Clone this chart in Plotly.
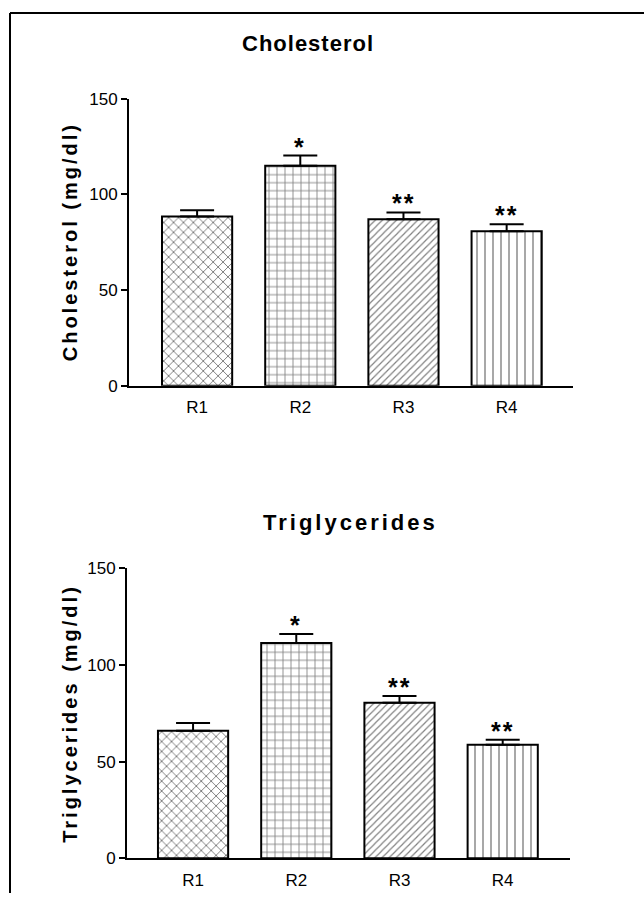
import plotly.graph_objects as go

groups = ["R1", "R2", "R3", "R4"]
chol_mean = [88.5, 115.0, 87.0, 80.7]
chol_sem = [3.2, 5.3, 3.6, 3.7]
chol_sig = ["", "*", "**", "**"]
trig_mean = [66.0, 111.3, 80.4, 58.8]
trig_sem = [4.0, 4.7, 3.6, 2.5]
trig_sig = ["", "*", "**", "**"]
y_ticks = [0, 50, 100, 150]

patterns = ["x", "+", "/", "|"]
psizes = [7, 8, 5, 8]
psolid = [0.26, 0.2, 0.24, 0.17]

FONT = "Arial, Liberation Sans, Helvetica, sans-serif"
W, H = 644, 903

def py(t):
    # screen pixel row -> paper fraction (compensates the page capture offset)
    return 1 - ((t - 8) / 0.982) / H

fig = go.Figure()

def add_panel(means, sems, xa, ya):
    fig.add_trace(go.Bar(
        x=groups, y=means, xaxis=xa, yaxis=ya, width=0.68,
        marker=dict(color="white", line=dict(color="black", width=2),
                    pattern=dict(shape=patterns, size=psizes, solidity=psolid,
                                 fgcolor="black", bgcolor="white", fillmode="overlay")),
        error_y=dict(type="data", array=sems, arrayminus=[0]*len(sems), symmetric=False,
                     color="black", thickness=2, width=17),
        showlegend=False, hoverinfo="skip"))

add_panel(chol_mean, chol_sem, "x", "y")
add_panel(trig_mean, trig_sem, "x2", "y2")

axis_common = dict(showline=True, linecolor="black", linewidth=2, showgrid=False,
                   zeroline=False, tickfont=dict(family=FONT, size=17, color="black"))
xtick = dict(ticks="outside", ticklen=5, tickcolor="rgba(0,0,0,0)")
ytick = dict(ticks="outside", ticklen=6, tickwidth=2, tickcolor="black")

fig.update_layout(
    width=W, height=H, margin=dict(l=0, r=0, t=0, b=0),
    paper_bgcolor="white", plot_bgcolor="white",
    xaxis=dict(domain=[129/W, 573/W], anchor="y", range=[-0.66, 3.643], **xtick, **axis_common),
    yaxis=dict(domain=[py(386), py(98)], anchor="x", range=[0, 150], tickvals=y_ticks,
               **ytick, **axis_common),
    xaxis2=dict(domain=[127/W, 570/W], anchor="y2", range=[-0.64, 3.652], **xtick, **axis_common),
    yaxis2=dict(domain=[py(860), py(569)], anchor="x2", range=[0, 150], tickvals=y_ticks,
                **ytick, **axis_common),
)

# significance marks
for means, sems, sig, xr, yr in [(chol_mean, chol_sem, chol_sig, "x", "y"),
                                  (trig_mean, trig_sem, trig_sig, "x2", "y2")]:
    for g, m, s, t in zip(groups, means, sems, sig):
        if t:
            fig.add_annotation(x=g, y=m + s, xref=xr, yref=yr,
                               text="<b><span style='letter-spacing:2px'>%s</span></b>" % t,
                               showarrow=False, xanchor="center", yanchor="bottom", yshift=-7,
                               font=dict(family=FONT, size=25, color="black"))

def spaced(txt, ls):
    return "<b><span style='letter-spacing:%spx'>%s</span></b>" % (ls, txt)

# panel titles
fig.add_annotation(x=308/W, y=py(43), xref="paper", yref="paper", text=spaced("Cholesterol", 1),
                   showarrow=False, xanchor="center", yanchor="middle",
                   font=dict(family=FONT, size=22, color="black"))
fig.add_annotation(x=350/W, y=py(523), xref="paper", yref="paper", text=spaced("Triglycerides", 3),
                   showarrow=False, xanchor="center", yanchor="middle",
                   font=dict(family=FONT, size=22, color="black"))

# y-axis titles
fig.add_annotation(x=70/W, y=py(242), xref="paper", yref="paper",
                   text=spaced("Cholesterol (mg/dl)", 3),
                   textangle=-90, showarrow=False, xanchor="center", yanchor="middle",
                   font=dict(family=FONT, size=20, color="black"))
fig.add_annotation(x=70/W, y=py(715), xref="paper", yref="paper",
                   text=spaced("Triglycerides (mg/dl)", 3),
                   textangle=-90, showarrow=False, xanchor="center", yanchor="middle",
                   font=dict(family=FONT, size=20, color="black"))

# frame lines
fig.add_shape(type="line", xref="paper", yref="paper", x0=10/W, x1=1, y0=py(12), y1=py(12),
              line=dict(color="black", width=2))
fig.add_shape(type="line", xref="paper", yref="paper", x0=10/W, x1=10/W, y0=0, y1=py(12),
              line=dict(color="black", width=2))

post = ("document.documentElement.style.margin='0';document.body.style.margin='0';"
        "document.body.style.overflow='hidden';document.documentElement.style.overflow='hidden';"
        "var d=document.getElementById('{plot_id}');d.style.position='fixed';"
        "d.style.top='0px';d.style.left='0px';")
fig.write_html("out.html", config={"displayModeBar": False}, post_script=post)
